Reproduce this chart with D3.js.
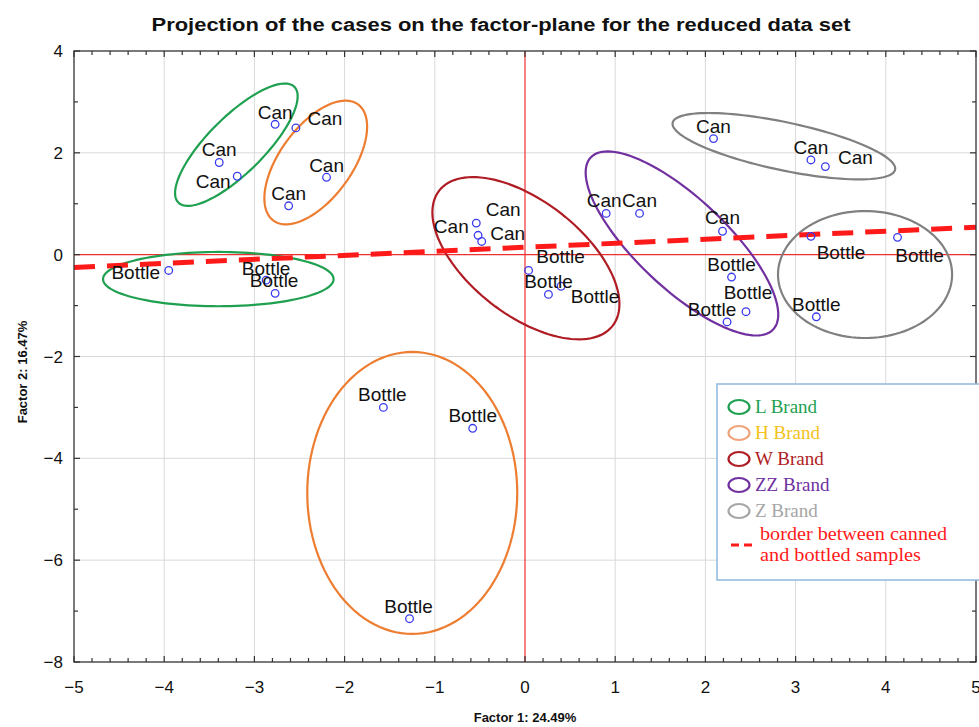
<!DOCTYPE html>
<html>
<head>
<meta charset="utf-8">
<script src="https://cdn.jsdelivr.net/npm/d3@7"></script>
<style>
  html, body { margin: 0; padding: 0; background: #fff; }
  svg { display: block; }
</style>
</head>
<body>
<svg id="chart"></svg>
<script>
// ----- data -----
const brands = ["L Brand", "H Brand", "W Brand", "ZZ Brand", "Z Brand"];
const brandColors = ["#1fa050", "#ed7d31", "#b01c24", "#7030a0", "#808080"];
const legendTextColors = ["#1fa050", "#f4c21a", "#b01c24", "#7030a0", "#a6a6a6"];
const legendIconColors = ["#1fa050", "#f0a47c", "#b01c24", "#7030a0", "#a6a6a6"];

const caseLabels = [
    "Can", "Can", "Can", "Can", "Can", "Can",
    "Bottle", "Bottle", "Bottle",
    "Can", "Can", "Can", "Bottle", "Bottle", "Bottle",
    "Can", "Can", "Can", "Bottle", "Bottle", "Bottle",
    "Can", "Can", "Can", "Bottle", "Bottle", "Bottle",
    "Bottle", "Bottle", "Bottle"
];
const factor1 = [
    -2.77, -3.39, -3.19, -2.54, -2.20, -2.62,
    -3.95, -2.87, -2.77,
    -0.54, -0.52, -0.48, 0.04, 0.26, 0.40,
    0.90, 1.27, 2.19, 2.29, 2.45, 2.24,
    2.09, 3.17, 3.33, 3.17, 4.13, 3.23,
    -1.57, -0.58, -1.28
];
const factor2 = [
    2.56, 1.81, 1.54, 2.49, 1.52, 0.96,
    -0.31, -0.50, -0.76,
    0.62, 0.38, 0.26, -0.31, -0.78, -0.62,
    0.81, 0.81, 0.46, -0.44, -1.12, -1.32,
    2.28, 1.86, 1.73, 0.36, 0.34, -1.22,
    -3.00, -3.41, -7.15
];

// group ellipses: brand index, centre, semi-axis vectors (factor units)
const ellipseBrand = [0, 1, 0, 2, 3, 4, 4, 1];
const ellipseCx = [-3.20, -2.32, -3.40, 0.01, 1.74, 2.87, 3.77, -1.25];
const ellipseCy = [2.16, 1.81, -0.48, -0.07, 0.22, 2.13, -0.39, -4.68];
const ellipseAx = [0.643, 0.469, 1.278, 0.961, 1.011, 1.233, 0.965, 1.164];
const ellipseAy = [1.137, 1.141, 0, -1.328, -1.690, -0.461, 0, 0];
const ellipseBx = [0.220, 0.323, 0, -0.389, -0.343, -0.055, 0, 0];
const ellipseBy = [-0.388, -0.416, 0.533, -0.880, -0.641, -0.461, 1.247, 2.769];

// border between canned and bottled samples
const borderF1 = [-5, 5];
const borderF2 = [-0.25, 0.54];

const xTicks = [-5, -4, -3, -2, -1, 0, 1, 2, 3, 4, 5];
const yTicks = [-8, -6, -4, -2, 0, 2, 4];

// label nudges (px), where labels were moved off centre
const labelNudge = [
    [0, -5], [0, -7], [-24, 12], [29, -3], [0, -5], [0, -6],
    [-33, 9], [0, -5], [-1, -6],
    [-25, 10], [25, -19], [26, -1], [32, -7], [0, -6], [34, 17],
    [-2, -6], [0, -6], [0, -7], [0, -6], [2, -13], [-15, -6],
    [0, -6], [0, -6], [30, -3], [30, 23], [22, 25], [0, -6],
    [-1, -6], [0, -6], [-1, -6]
];

// ----- layout -----
const width = 979, height = 727;
const margin = { left: 74, right: 2, top: 51, bottom: 65 };
const fmt = d => (d < 0 ? "\u2212" + Math.abs(d) : String(d));

const svg = d3.select("svg#chart")
    .attr("width", width)
    .attr("height", height)
    .style("font-family", "Arial, 'Liberation Sans', sans-serif");

const x = d3.scaleLinear().domain([-5, 5]).range([margin.left, width - margin.right - 1]);
const y = d3.scaleLinear().domain([-8, 4]).range([height - margin.bottom, margin.top]);

// title
svg.append("text")
    .attr("x", 501)
    .attr("y", 31)
    .attr("text-anchor", "middle")
    .attr("font-weight", "bold")
    .attr("font-size", 18)
    .attr("textLength", 699)
    .attr("lengthAdjust", "spacingAndGlyphs")
    .attr("fill", "#111")
    .text("Projection of the cases on the factor-plane for the reduced data set");

// ===== GRID =====
const grid = svg.append("g").attr("stroke", "#d9d9d9").attr("stroke-width", 1);
grid.selectAll("line.vx")
    .data(xTicks.filter(d => d !== 0 && d > -5 && d < 5))
    .join("line")
    .attr("x1", d => x(d)).attr("x2", d => x(d))
    .attr("y1", y(4)).attr("y2", y(-8));
grid.selectAll("line.hy")
    .data(yTicks.filter(d => d !== 0 && d > -8 && d < 4))
    .join("line")
    .attr("x1", x(-5)).attr("x2", x(5))
    .attr("y1", d => y(d)).attr("y2", d => y(d));

// red zero lines
svg.append("line")
    .attr("x1", x(0)).attr("x2", x(0)).attr("y1", y(4)).attr("y2", y(-8))
    .attr("stroke", "#ee3030").attr("stroke-width", 1.2);
svg.append("line")
    .attr("x1", x(-5)).attr("x2", x(5)).attr("y1", y(0)).attr("y2", y(0))
    .attr("stroke", "#ee3030").attr("stroke-width", 1.2);

// ===== ELLIPSES =====
const ellipsePath = d3.line().x(p => x(p[0])).y(p => y(p[1])).curve(d3.curveLinearClosed);
const ellipses = ellipseBrand.map((b, i) => {
    const pts = d3.range(120).map(k => {
        const t = k / 120 * 2 * Math.PI;
        return [ellipseCx[i] + Math.cos(t) * ellipseAx[i] + Math.sin(t) * ellipseBx[i],
                ellipseCy[i] + Math.cos(t) * ellipseAy[i] + Math.sin(t) * ellipseBy[i]];
    });
    return { brand: b, pts };
});
svg.append("g").selectAll("path")
    .data(ellipses)
    .join("path")
    .attr("d", d => ellipsePath(d.pts))
    .attr("fill", "none")
    .attr("stroke", d => brandColors[d.brand])
    .attr("stroke-width", 2.2);

// dashed border line
svg.append("line")
    .attr("x1", x(borderF1[0])).attr("y1", y(borderF2[0]))
    .attr("x2", x(borderF1[1])).attr("y2", y(borderF2[1]))
    .attr("stroke", "#ff1a1a")
    .attr("stroke-width", 5)
    .attr("stroke-dasharray", "21 12");

// ===== POINTS =====
const cases = caseLabels.map((lab, i) => ({ lab, f1: factor1[i], f2: factor2[i], nudge: labelNudge[i] }));
svg.append("g").selectAll("circle")
    .data(cases)
    .join("circle")
    .attr("cx", d => x(d.f1))
    .attr("cy", d => y(d.f2))
    .attr("r", 3.8)
    .attr("fill", "none")
    .attr("stroke", "#3a3af0")
    .attr("stroke-width", 1.3);

svg.append("g").selectAll("text")
    .data(cases)
    .join("text")
    .attr("x", d => x(d.f1) + d.nudge[0])
    .attr("y", d => y(d.f2) + d.nudge[1])
    .attr("text-anchor", "middle")
    .attr("font-size", 19)
    .attr("fill", "#111")
    .text(d => d.lab);

// ===== FRAME & TICKS =====
svg.append("rect")
    .attr("x", x(-5)).attr("y", y(4))
    .attr("width", x(5) - x(-5)).attr("height", y(-8) - y(4))
    .attr("fill", "none").attr("stroke", "#333").attr("stroke-width", 1.3);

const tickG = svg.append("g").attr("stroke", "#333").attr("stroke-width", 1.2);
const xMinor = d3.range(-5, 5.001, 0.2).map(v => +v.toFixed(1));
tickG.selectAll("line.xb")
    .data(xMinor)
    .join("line")
    .attr("x1", d => x(d)).attr("x2", d => x(d))
    .attr("y1", y(-8)).attr("y2", d => y(-8) - (Number.isInteger(d) ? 6 : 4));
const xTop = tickG.append("g");
xTop.selectAll("line")
    .data(xMinor)
    .join("line")
    .attr("x1", d => x(d)).attr("x2", d => x(d))
    .attr("y1", y(4)).attr("y2", d => y(4) + (Number.isInteger(d) ? 6 : 4));
const yMinor = d3.range(-8, 4.001, 1);
tickG.append("g").selectAll("line")
    .data(yMinor)
    .join("line")
    .attr("x1", x(-5)).attr("x2", d => x(-5) + (d % 2 === 0 ? 6 : 4))
    .attr("y1", d => y(d)).attr("y2", d => y(d));
tickG.append("g").selectAll("line")
    .data(yMinor)
    .join("line")
    .attr("x1", x(5)).attr("x2", d => x(5) - (d % 2 === 0 ? 6 : 4))
    .attr("y1", d => y(d)).attr("y2", d => y(d));

// tick labels
svg.append("g").selectAll("text")
    .data(xTicks)
    .join("text")
    .attr("x", d => x(d))
    .attr("y", y(-8) + 31)
    .attr("text-anchor", "middle")
    .attr("font-size", 17)
    .attr("fill", "#111")
    .text(fmt);
svg.append("g").selectAll("text")
    .data(yTicks)
    .join("text")
    .attr("x", x(-5) - 11)
    .attr("y", d => y(d) + 6)
    .attr("text-anchor", "end")
    .attr("font-size", 17)
    .attr("fill", "#111")
    .text(fmt);

// axis titles
svg.append("text")
    .attr("x", x(0))
    .attr("y", 722)
    .attr("text-anchor", "middle")
    .attr("font-weight", "bold")
    .attr("font-size", 13)
    .attr("fill", "#111")
    .text("Factor 1: 24.49%");
svg.append("text")
    .attr("transform", "translate(27,372) rotate(-90)")
    .attr("text-anchor", "middle")
    .attr("font-weight", "bold")
    .attr("font-size", 13)
    .attr("fill", "#111")
    .text("Factor 2: 16.47%");

// ===== LEGEND =====
const legend = svg.append("g").attr("transform", "translate(717,384)");
legend.append("rect")
    .attr("x", 0).attr("y", 0)
    .attr("width", 275).attr("height", 196)
    .attr("fill", "#fff")
    .attr("stroke", "#8fb8e0")
    .attr("stroke-width", 1.5);
const item = legend.selectAll("g.item")
    .data(brands)
    .join("g")
    .attr("transform", (d, i) => "translate(0," + (23 + i * 26) + ")");
item.append("ellipse")
    .attr("cx", 22).attr("cy", 0).attr("rx", 10.5).attr("ry", 7)
    .attr("fill", "none")
    .attr("stroke", (d, i) => legendIconColors[i])
    .attr("stroke-width", 2.2);
item.append("text")
    .attr("x", 38).attr("y", 6)
    .attr("font-family", "'Liberation Serif', 'DejaVu Serif', serif")
    .attr("font-size", 19)
    .attr("fill", (d, i) => legendTextColors[i])
    .text(d => d);
legend.append("line")
    .attr("x1", 14).attr("x2", 35).attr("y1", 161).attr("y2", 161)
    .attr("stroke", "#ff1a1a").attr("stroke-width", 3)
    .attr("stroke-dasharray", "8 5");
legend.append("text")
    .attr("x", 43).attr("y", 156)
    .attr("font-family", "'Liberation Serif', 'DejaVu Serif', serif")
    .attr("font-size", 19)
    .attr("textLength", 187)
    .attr("lengthAdjust", "spacingAndGlyphs")
    .attr("fill", "#ff1a1a")
    .text("border between canned");
legend.append("text")
    .attr("x", 43).attr("y", 177)
    .attr("font-family", "'Liberation Serif', 'DejaVu Serif', serif")
    .attr("font-size", 19)
    .attr("textLength", 161)
    .attr("lengthAdjust", "spacingAndGlyphs")
    .attr("fill", "#ff1a1a")
    .text("and bottled samples");
</script>
</body>
</html>
